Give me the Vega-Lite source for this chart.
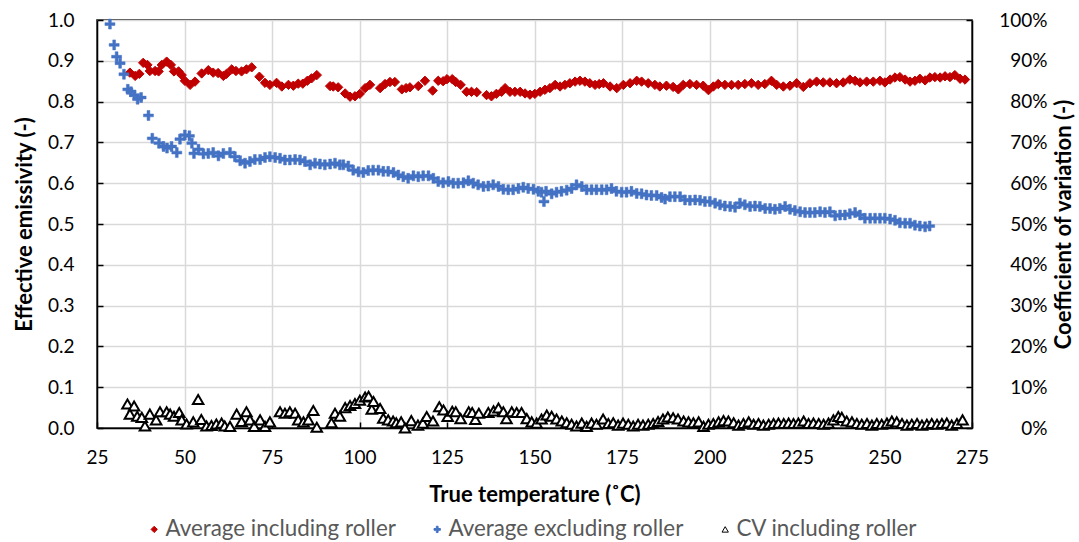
{
"$schema": "https://vega.github.io/schema/vega-lite/v6.json",
"width": 875, "height": 408,
"autosize": "none",
"padding": {"left": 97, "top": 20, "right": 107, "bottom": 114},
"data": {"values": [
{"s":"R","t":34.4,"v":0.871},{"s":"R","t":35.9,"v":0.863},{"s":"R","t":37.1,"v":0.868},{"s":"R","t":38.2,"v":0.895},{"s":"R","t":39.4,"v":0.890},{"s":"R","t":40.1,"v":0.875},{"s":"R","t":41.6,"v":0.875},{"s":"R","t":42.6,"v":0.874},{"s":"R","t":43.5,"v":0.890},{"s":"R","t":44.9,"v":0.898},{"s":"R","t":46.1,"v":0.890},{"s":"R","t":47.0,"v":0.874},{"s":"R","t":48.3,"v":0.874},{"s":"R","t":49.2,"v":0.865},{"s":"R","t":50.1,"v":0.851},{"s":"R","t":51.6,"v":0.841},{"s":"R","t":53.0,"v":0.849},{"s":"R","t":54.9,"v":0.869},{"s":"R","t":56.8,"v":0.877},{"s":"R","t":58.2,"v":0.871},{"s":"R","t":59.6,"v":0.870},{"s":"R","t":61.1,"v":0.863},{"s":"R","t":62.0,"v":0.868},{"s":"R","t":63.5,"v":0.879},{"s":"R","t":64.7,"v":0.875},{"s":"R","t":66.3,"v":0.874},{"s":"R","t":67.7,"v":0.879},{"s":"R","t":69.2,"v":0.884},{"s":"R","t":71.4,"v":0.861},{"s":"R","t":73.0,"v":0.846},{"s":"R","t":74.4,"v":0.841},{"s":"R","t":76.3,"v":0.846},{"s":"R","t":77.8,"v":0.837},{"s":"R","t":79.7,"v":0.841},{"s":"R","t":81.1,"v":0.839},{"s":"R","t":82.5,"v":0.844},{"s":"R","t":83.8,"v":0.844},{"s":"R","t":85.1,"v":0.851},{"s":"R","t":86.3,"v":0.857},{"s":"R","t":87.8,"v":0.865},
{"s":"R","t":91.6,"v":0.838},{"s":"R","t":92.5,"v":0.837},{"s":"R","t":93.9,"v":0.835},{"s":"R","t":95.9,"v":0.820},{"s":"R","t":97.3,"v":0.812},{"s":"R","t":98.7,"v":0.813},{"s":"R","t":100.1,"v":0.819},{"s":"R","t":101.6,"v":0.833},{"s":"R","t":103.0,"v":0.841},{"s":"R","t":105.9,"v":0.833},{"s":"R","t":107.3,"v":0.843},{"s":"R","t":108.7,"v":0.848},{"s":"R","t":110.1,"v":0.848},{"s":"R","t":112.1,"v":0.830},{"s":"R","t":113.3,"v":0.833},{"s":"R","t":114.4,"v":0.835},{"s":"R","t":116.8,"v":0.838},{"s":"R","t":118.7,"v":0.851},{"s":"R","t":120.9,"v":0.827},{"s":"R","t":122.5,"v":0.851},{"s":"R","t":123.9,"v":0.850},{"s":"R","t":125.0,"v":0.855},{"s":"R","t":126.5,"v":0.855},{"s":"R","t":127.5,"v":0.848},{"s":"R","t":128.9,"v":0.841},{"s":"R","t":130.6,"v":0.824},{"s":"R","t":132.0,"v":0.824},{"s":"R","t":133.5,"v":0.823},{"s":"R","t":136.3,"v":0.816},{"s":"R","t":137.7,"v":0.813},{"s":"R","t":139.1,"v":0.819},{"s":"R","t":140.6,"v":0.824},{"s":"R","t":141.6,"v":0.833},{"s":"R","t":143.0,"v":0.824},{"s":"R","t":144.4,"v":0.824},{"s":"R","t":145.9,"v":0.824},{"s":"R","t":147.3,"v":0.820},{"s":"R","t":148.7,"v":0.817},{"s":"R","t":150.1,"v":0.819},{"s":"R","t":151.6,"v":0.824},{"s":"R","t":153.0,"v":0.829},{"s":"R","t":154.4,"v":0.833},{"s":"R","t":155.9,"v":0.841},{"s":"R","t":157.3,"v":0.837},{"s":"R","t":158.7,"v":0.841},{"s":"R","t":160.1,"v":0.845},{"s":"R","t":161.6,"v":0.849},{"s":"R","t":163.0,"v":0.851},{"s":"R","t":164.4,"v":0.849},{"s":"R","t":165.8,"v":0.845},{"s":"R","t":167.3,"v":0.841},{"s":"R","t":168.5,"v":0.843},{"s":"R","t":169.7,"v":0.845},{"s":"R","t":171.6,"v":0.837},{"s":"R","t":173.5,"v":0.833},{"s":"R","t":175.4,"v":0.841},{"s":"R","t":177.3,"v":0.845},{"s":"R","t":179.2,"v":0.851},{"s":"R","t":180.6,"v":0.849},{"s":"R","t":182.5,"v":0.845},{"s":"R","t":184.4,"v":0.841},{"s":"R","t":185.8,"v":0.837},{"s":"R","t":187.7,"v":0.839},{"s":"R","t":189.6,"v":0.836},{"s":"R","t":191.1,"v":0.830},{"s":"R","t":192.5,"v":0.841},{"s":"R","t":194.4,"v":0.843},{"s":"R","t":196.3,"v":0.841},{"s":"R","t":198.2,"v":0.839},{"s":"R","t":199.7,"v":0.828},{"s":"R","t":201.1,"v":0.837},{"s":"R","t":202.5,"v":0.843},{"s":"R","t":204.4,"v":0.841},{"s":"R","t":206.3,"v":0.841},{"s":"R","t":208.2,"v":0.841},{"s":"R","t":210.1,"v":0.843},{"s":"R","t":212.0,"v":0.845},{"s":"R","t":213.9,"v":0.841},{"s":"R","t":215.8,"v":0.843},{"s":"R","t":217.7,"v":0.851},{"s":"R","t":219.2,"v":0.841},{"s":"R","t":221.1,"v":0.837},{"s":"R","t":223.0,"v":0.839},{"s":"R","t":224.9,"v":0.845},{"s":"R","t":226.8,"v":0.836},{"s":"R","t":228.7,"v":0.845},{"s":"R","t":230.6,"v":0.849},{"s":"R","t":232.5,"v":0.847},{"s":"R","t":234.4,"v":0.847},{"s":"R","t":236.3,"v":0.845},{"s":"R","t":238.2,"v":0.847},{"s":"R","t":240.1,"v":0.854},{"s":"R","t":241.6,"v":0.851},{"s":"R","t":243.0,"v":0.847},{"s":"R","t":244.9,"v":0.849},{"s":"R","t":246.8,"v":0.849},{"s":"R","t":248.7,"v":0.851},{"s":"R","t":250.1,"v":0.847},{"s":"R","t":251.6,"v":0.854},{"s":"R","t":253.0,"v":0.859},{"s":"R","t":254.4,"v":0.860},{"s":"R","t":255.9,"v":0.854},{"s":"R","t":257.3,"v":0.849},{"s":"R","t":258.7,"v":0.851},{"s":"R","t":260.1,"v":0.856},{"s":"R","t":261.6,"v":0.852},{"s":"R","t":263.0,"v":0.859},{"s":"R","t":264.4,"v":0.860},{"s":"R","t":265.9,"v":0.859},{"s":"R","t":267.3,"v":0.862},{"s":"R","t":268.7,"v":0.860},{"s":"R","t":270.1,"v":0.865},{"s":"R","t":271.6,"v":0.856},{"s":"R","t":273.0,"v":0.854},
{"s":"B","t":28.7,"v":0.990},{"s":"B","t":29.9,"v":0.939},{"s":"B","t":30.6,"v":0.910},{"s":"B","t":31.6,"v":0.894},{"s":"B","t":32.7,"v":0.867},{"s":"B","t":33.8,"v":0.830},{"s":"B","t":34.7,"v":0.824},{"s":"B","t":35.7,"v":0.816},{"s":"B","t":36.6,"v":0.806},{"s":"B","t":37.6,"v":0.810},{"s":"B","t":39.7,"v":0.766},{"s":"B","t":40.8,"v":0.710},{"s":"B","t":42.7,"v":0.698},{"s":"B","t":44.0,"v":0.690},{"s":"B","t":45.0,"v":0.686},{"s":"B","t":46.3,"v":0.690},{"s":"B","t":47.8,"v":0.675},{"s":"B","t":48.7,"v":0.708},{"s":"B","t":50.1,"v":0.718},{"s":"B","t":51.4,"v":0.716},{"s":"B","t":52.1,"v":0.698},{"s":"B","t":52.7,"v":0.673},{"s":"B","t":54.0,"v":0.683},{"s":"B","t":55.4,"v":0.672},{"s":"B","t":56.8,"v":0.673},{"s":"B","t":58.2,"v":0.675},{"s":"B","t":59.7,"v":0.667},{"s":"B","t":61.1,"v":0.673},{"s":"B","t":63.0,"v":0.675},{"s":"B","t":64.4,"v":0.665},{"s":"B","t":65.9,"v":0.655},{"s":"B","t":67.3,"v":0.649},{"s":"B","t":68.7,"v":0.653},{"s":"B","t":70.1,"v":0.658},{"s":"B","t":71.6,"v":0.658},{"s":"B","t":73.0,"v":0.663},{"s":"B","t":74.4,"v":0.665},{"s":"B","t":75.9,"v":0.663},{"s":"B","t":77.3,"v":0.661},{"s":"B","t":78.7,"v":0.657},{"s":"B","t":80.1,"v":0.657},{"s":"B","t":81.6,"v":0.658},{"s":"B","t":83.0,"v":0.657},{"s":"B","t":84.4,"v":0.653},{"s":"B","t":85.9,"v":0.645},{"s":"B","t":87.3,"v":0.649},{"s":"B","t":88.7,"v":0.647},{"s":"B","t":90.1,"v":0.645},{"s":"B","t":91.6,"v":0.647},{"s":"B","t":93.0,"v":0.649},{"s":"B","t":94.4,"v":0.645},{"s":"B","t":95.4,"v":0.645},{"s":"B","t":96.8,"v":0.642},{"s":"B","t":98.2,"v":0.632},{"s":"B","t":99.7,"v":0.628},{"s":"B","t":101.1,"v":0.626},{"s":"B","t":102.5,"v":0.631},{"s":"B","t":103.9,"v":0.632},{"s":"B","t":105.4,"v":0.632},{"s":"B","t":106.8,"v":0.629},{"s":"B","t":108.2,"v":0.629},{"s":"B","t":109.7,"v":0.626},{"s":"B","t":111.1,"v":0.620},{"s":"B","t":112.5,"v":0.616},{"s":"B","t":113.9,"v":0.612},{"s":"B","t":115.4,"v":0.618},{"s":"B","t":116.8,"v":0.616},{"s":"B","t":118.2,"v":0.618},{"s":"B","t":119.7,"v":0.618},{"s":"B","t":121.1,"v":0.612},{"s":"B","t":122.5,"v":0.604},{"s":"B","t":123.9,"v":0.601},{"s":"B","t":125.4,"v":0.604},{"s":"B","t":126.8,"v":0.600},{"s":"B","t":128.2,"v":0.600},{"s":"B","t":129.7,"v":0.601},{"s":"B","t":131.1,"v":0.606},{"s":"B","t":132.5,"v":0.600},{"s":"B","t":133.9,"v":0.596},{"s":"B","t":135.4,"v":0.592},{"s":"B","t":136.8,"v":0.593},{"s":"B","t":138.2,"v":0.596},{"s":"B","t":139.7,"v":0.592},{"s":"B","t":141.1,"v":0.585},{"s":"B","t":142.5,"v":0.584},{"s":"B","t":143.9,"v":0.584},{"s":"B","t":145.4,"v":0.587},{"s":"B","t":146.8,"v":0.590},{"s":"B","t":148.2,"v":0.587},{"s":"B","t":149.7,"v":0.585},{"s":"B","t":151.1,"v":0.580},{"s":"B","t":152.0,"v":0.578},{"s":"B","t":152.7,"v":0.555},{"s":"B","t":153.3,"v":0.580},{"s":"B","t":154.9,"v":0.574},{"s":"B","t":156.3,"v":0.578},{"s":"B","t":157.7,"v":0.580},{"s":"B","t":159.2,"v":0.583},{"s":"B","t":160.6,"v":0.587},{"s":"B","t":162.0,"v":0.596},{"s":"B","t":163.5,"v":0.592},{"s":"B","t":164.9,"v":0.584},{"s":"B","t":166.3,"v":0.584},{"s":"B","t":167.7,"v":0.584},{"s":"B","t":169.2,"v":0.584},{"s":"B","t":170.6,"v":0.584},{"s":"B","t":172.0,"v":0.587},{"s":"B","t":173.4,"v":0.580},{"s":"B","t":174.9,"v":0.578},{"s":"B","t":176.3,"v":0.578},{"s":"B","t":177.7,"v":0.580},{"s":"B","t":179.2,"v":0.575},{"s":"B","t":180.6,"v":0.574},{"s":"B","t":182.0,"v":0.571},{"s":"B","t":183.4,"v":0.570},{"s":"B","t":184.9,"v":0.570},{"s":"B","t":186.3,"v":0.565},{"s":"B","t":187.3,"v":0.561},{"s":"B","t":188.7,"v":0.567},{"s":"B","t":190.1,"v":0.567},{"s":"B","t":191.6,"v":0.567},{"s":"B","t":193.0,"v":0.559},{"s":"B","t":194.4,"v":0.558},{"s":"B","t":195.9,"v":0.559},{"s":"B","t":197.3,"v":0.558},{"s":"B","t":198.7,"v":0.555},{"s":"B","t":200.1,"v":0.555},{"s":"B","t":201.6,"v":0.551},{"s":"B","t":203.0,"v":0.547},{"s":"B","t":204.4,"v":0.544},{"s":"B","t":205.9,"v":0.543},{"s":"B","t":207.3,"v":0.541},{"s":"B","t":208.7,"v":0.551},{"s":"B","t":210.1,"v":0.547},{"s":"B","t":211.6,"v":0.543},{"s":"B","t":213.0,"v":0.544},{"s":"B","t":214.4,"v":0.543},{"s":"B","t":215.9,"v":0.538},{"s":"B","t":217.3,"v":0.538},{"s":"B","t":218.7,"v":0.536},{"s":"B","t":220.1,"v":0.538},{"s":"B","t":221.6,"v":0.543},{"s":"B","t":223.0,"v":0.536},{"s":"B","t":224.4,"v":0.533},{"s":"B","t":225.9,"v":0.530},{"s":"B","t":227.3,"v":0.528},{"s":"B","t":228.7,"v":0.528},{"s":"B","t":230.1,"v":0.528},{"s":"B","t":231.6,"v":0.530},{"s":"B","t":233.0,"v":0.528},{"s":"B","t":234.4,"v":0.530},{"s":"B","t":235.9,"v":0.520},{"s":"B","t":237.3,"v":0.522},{"s":"B","t":238.7,"v":0.522},{"s":"B","t":240.1,"v":0.525},{"s":"B","t":241.6,"v":0.528},{"s":"B","t":243.0,"v":0.522},{"s":"B","t":244.4,"v":0.514},{"s":"B","t":245.9,"v":0.514},{"s":"B","t":247.3,"v":0.514},{"s":"B","t":248.7,"v":0.514},{"s":"B","t":250.1,"v":0.514},{"s":"B","t":251.6,"v":0.512},{"s":"B","t":253.0,"v":0.509},{"s":"B","t":254.4,"v":0.503},{"s":"B","t":255.9,"v":0.502},{"s":"B","t":257.3,"v":0.502},{"s":"B","t":258.7,"v":0.497},{"s":"B","t":260.1,"v":0.495},{"s":"B","t":261.6,"v":0.493},{"s":"B","t":262.9,"v":0.495},
{"s":"C","t":33.7,"v":0.059},{"s":"C","t":35.6,"v":0.054},{"s":"C","t":34.4,"v":0.034},{"s":"C","t":36.5,"v":0.029},{"s":"C","t":38.7,"v":0.005},{"s":"C","t":37.8,"v":0.026},{"s":"C","t":40.1,"v":0.034},{"s":"C","t":41.9,"v":0.020},{"s":"C","t":43.0,"v":0.040},{"s":"C","t":44.9,"v":0.040},{"s":"C","t":45.9,"v":0.034},{"s":"C","t":47.0,"v":0.029},{"s":"C","t":48.5,"v":0.038},{"s":"C","t":49.2,"v":0.020},{"s":"C","t":50.6,"v":0.010},{"s":"C","t":52.5,"v":0.015},{"s":"C","t":53.9,"v":0.070},{"s":"C","t":54.8,"v":0.021},{"s":"C","t":56.3,"v":0.005},{"s":"C","t":57.7,"v":0.006},{"s":"C","t":59.1,"v":0.010},{"s":"C","t":60.6,"v":0.012},{"s":"C","t":61.5,"v":0.005},{"s":"C","t":63.0,"v":0.004},{"s":"C","t":64.9,"v":0.034},{"s":"C","t":66.3,"v":0.016},{"s":"C","t":67.7,"v":0.040},{"s":"C","t":68.7,"v":0.020},{"s":"C","t":69.9,"v":0.004},{"s":"C","t":71.6,"v":0.020},{"s":"C","t":73.0,"v":0.004},{"s":"C","t":74.4,"v":0.015},{"s":"C","t":77.3,"v":0.040},{"s":"C","t":78.7,"v":0.036},{"s":"C","t":80.1,"v":0.040},{"s":"C","t":81.6,"v":0.036},{"s":"C","t":82.5,"v":0.020},{"s":"C","t":84.0,"v":0.015},{"s":"C","t":85.4,"v":0.020},{"s":"C","t":86.8,"v":0.043},{"s":"C","t":87.8,"v":0.002},{"s":"C","t":92.0,"v":0.013},{"s":"C","t":93.0,"v":0.036},{"s":"C","t":94.4,"v":0.029},{"s":"C","t":95.9,"v":0.050},{"s":"C","t":97.3,"v":0.055},{"s":"C","t":98.7,"v":0.060},{"s":"C","t":100.1,"v":0.068},{"s":"C","t":101.6,"v":0.076},{"s":"C","t":102.6,"v":0.078},{"s":"C","t":103.5,"v":0.046},{"s":"C","t":104.0,"v":0.065},{"s":"C","t":105.9,"v":0.048},{"s":"C","t":106.8,"v":0.024},{"s":"C","t":108.2,"v":0.020},{"s":"C","t":109.6,"v":0.017},{"s":"C","t":110.5,"v":0.013},{"s":"C","t":111.9,"v":0.015},{"s":"C","t":113.0,"v":0.000},{"s":"C","t":114.8,"v":0.018},{"s":"C","t":116.7,"v":0.007},{"s":"C","t":118.1,"v":0.012},{"s":"C","t":119.2,"v":0.028},{"s":"C","t":121.0,"v":0.017},{"s":"C","t":122.8,"v":0.052},{"s":"C","t":124.0,"v":0.044},{"s":"C","t":125.2,"v":0.028},{"s":"C","t":126.5,"v":0.041},{"s":"C","t":127.5,"v":0.040},{"s":"C","t":128.9,"v":0.023},{"s":"C","t":131.2,"v":0.040},{"s":"C","t":132.2,"v":0.038},{"s":"C","t":133.1,"v":0.021},{"s":"C","t":134.1,"v":0.036},{"s":"C","t":136.8,"v":0.038},{"s":"C","t":138.3,"v":0.042},{"s":"C","t":139.7,"v":0.049},{"s":"C","t":141.1,"v":0.040},{"s":"C","t":142.0,"v":0.023},{"s":"C","t":143.5,"v":0.040},{"s":"C","t":144.9,"v":0.038},{"s":"C","t":146.3,"v":0.038},{"s":"C","t":147.8,"v":0.023},{"s":"C","t":149.2,"v":0.015},{"s":"C","t":150.6,"v":0.012},{"s":"C","t":152.0,"v":0.022},{"s":"C","t":153.5,"v":0.032},{"s":"C","t":154.9,"v":0.029},{"s":"C","t":156.3,"v":0.022},{"s":"C","t":157.8,"v":0.017},{"s":"C","t":159.2,"v":0.013},{"s":"C","t":160.6,"v":0.009},{"s":"C","t":162.0,"v":0.005},{"s":"C","t":163.5,"v":0.012},{"s":"C","t":164.9,"v":0.004},{"s":"C","t":166.3,"v":0.012},{"s":"C","t":167.7,"v":0.009},{"s":"C","t":169.6,"v":0.022},{"s":"C","t":171.1,"v":0.011},{"s":"C","t":172.5,"v":0.013},{"s":"C","t":173.9,"v":0.007},{"s":"C","t":175.3,"v":0.012},{"s":"C","t":176.8,"v":0.009},{"s":"C","t":178.2,"v":0.005},{"s":"C","t":179.6,"v":0.009},{"s":"C","t":181.0,"v":0.007},{"s":"C","t":182.5,"v":0.009},{"s":"C","t":183.9,"v":0.011},{"s":"C","t":185.3,"v":0.016},{"s":"C","t":186.7,"v":0.022},{"s":"C","t":188.1,"v":0.027},{"s":"C","t":189.6,"v":0.025},{"s":"C","t":191.0,"v":0.022},{"s":"C","t":192.6,"v":0.017},{"s":"C","t":194.0,"v":0.015},{"s":"C","t":195.4,"v":0.013},{"s":"C","t":196.9,"v":0.015},{"s":"C","t":198.3,"v":0.004},{"s":"C","t":199.7,"v":0.009},{"s":"C","t":201.1,"v":0.011},{"s":"C","t":202.6,"v":0.015},{"s":"C","t":204.0,"v":0.018},{"s":"C","t":205.4,"v":0.017},{"s":"C","t":206.9,"v":0.013},{"s":"C","t":208.3,"v":0.007},{"s":"C","t":209.7,"v":0.011},{"s":"C","t":211.2,"v":0.015},{"s":"C","t":212.6,"v":0.009},{"s":"C","t":214.0,"v":0.011},{"s":"C","t":215.4,"v":0.007},{"s":"C","t":216.9,"v":0.009},{"s":"C","t":218.3,"v":0.011},{"s":"C","t":219.7,"v":0.012},{"s":"C","t":221.2,"v":0.011},{"s":"C","t":222.6,"v":0.012},{"s":"C","t":224.0,"v":0.011},{"s":"C","t":225.4,"v":0.012},{"s":"C","t":226.9,"v":0.017},{"s":"C","t":228.3,"v":0.011},{"s":"C","t":229.7,"v":0.012},{"s":"C","t":231.2,"v":0.011},{"s":"C","t":232.6,"v":0.009},{"s":"C","t":234.0,"v":0.012},{"s":"C","t":235.4,"v":0.020},{"s":"C","t":236.8,"v":0.028},{"s":"C","t":237.8,"v":0.026},{"s":"C","t":239.2,"v":0.017},{"s":"C","t":240.7,"v":0.015},{"s":"C","t":242.1,"v":0.011},{"s":"C","t":243.5,"v":0.009},{"s":"C","t":245.0,"v":0.011},{"s":"C","t":246.4,"v":0.007},{"s":"C","t":247.8,"v":0.011},{"s":"C","t":249.2,"v":0.009},{"s":"C","t":250.7,"v":0.012},{"s":"C","t":252.1,"v":0.017},{"s":"C","t":253.5,"v":0.015},{"s":"C","t":255.0,"v":0.011},{"s":"C","t":256.4,"v":0.007},{"s":"C","t":257.8,"v":0.009},{"s":"C","t":259.3,"v":0.011},{"s":"C","t":260.7,"v":0.007},{"s":"C","t":262.1,"v":0.009},{"s":"C","t":263.5,"v":0.011},{"s":"C","t":265.0,"v":0.009},{"s":"C","t":266.4,"v":0.011},{"s":"C","t":267.8,"v":0.012},{"s":"C","t":269.2,"v":0.007},{"s":"C","t":270.7,"v":0.011},{"s":"C","t":272.3,"v":0.020}
]},
"layer": [
 {
  "layer": [
   {
    "transform": [{"filter": "datum.s == 'R'"}],
    "mark": {"type": "point", "filled": true, "opacity": 1, "size": 88, "strokeWidth": 1},
    "encoding": {
     "x": {"field": "t", "type": "quantitative", "scale": {"domain": [25, 275], "nice": false, "zero": false}, "axis": {"values": [25,50,75,100,125,150,175,200,225,250,275], "title": "True temperature (˚C)", "labelPadding": 26, "titlePadding": 17}},
     "y": {"field": "v", "type": "quantitative", "scale": {"domain": [0, 1], "nice": false}, "axis": {"values": [0,0.1,0.2,0.3,0.4,0.5,0.6,0.7,0.8,0.9,1.0], "format": ".1f", "title": "Effective emissivity (-)", "labelPadding": 29, "titlePadding": 11}},
     "shape": {"field": "s", "type": "nominal", "scale": {"domain": ["R","B","C"], "range": ["diamond", "M-1,-0.28H-0.28V-1H0.28V-0.28H1V0.28H0.28V1H-0.28V0.28H-1Z", "triangle-up"]}, "legend": {"title": null, "orient": "none", "legendX": 46, "legendY": 498, "direction": "horizontal", "labelLimit": 400, "labelExpr": "datum.label == 'R' ? 'Average including roller' : datum.label == 'B' ? 'Average excluding roller' : 'CV including roller'"}},
     "fill": {"field": "s", "type": "nominal", "scale": {"domain": ["R","B","C"], "range": ["#C00000", "#4472C4", "#FFFFFF"]}, "legend": {"title": null, "orient": "none", "legendX": 46, "legendY": 498, "direction": "horizontal", "labelLimit": 400, "labelExpr": "datum.label == 'R' ? 'Average including roller' : datum.label == 'B' ? 'Average excluding roller' : 'CV including roller'"}},
     "stroke": {"field": "s", "type": "nominal", "scale": {"domain": ["R","B","C"], "range": ["#C00000", "#4472C4", "#000000"]}, "legend": {"title": null, "orient": "none", "legendX": 46, "legendY": 498, "direction": "horizontal", "labelLimit": 400, "labelExpr": "datum.label == 'R' ? 'Average including roller' : datum.label == 'B' ? 'Average excluding roller' : 'CV including roller'"}}
    }
   },
   {
    "transform": [{"filter": "datum.s == 'B'"}],
    "mark": {"type": "point", "filled": true, "opacity": 1, "size": 100, "strokeWidth": 0.5},
    "encoding": {
     "x": {"field": "t", "type": "quantitative"},
     "y": {"field": "v", "type": "quantitative"},
     "shape": {"field": "s", "type": "nominal"},
     "fill": {"field": "s", "type": "nominal"},
     "stroke": {"field": "s", "type": "nominal"}
    }
   }
  ]
 },
 {
  "transform": [{"filter": "datum.s == 'C'"}],
  "mark": {"type": "point", "filled": true, "opacity": 1, "size": 110, "strokeWidth": 2},
  "encoding": {
   "x": {"field": "t", "type": "quantitative"},
   "y": {"field": "v", "type": "quantitative", "scale": {"domain": [0, 1], "nice": false}, "axis": {"orient": "right", "values": [0,0.1,0.2,0.3,0.4,0.5,0.6,0.7,0.8,0.9,1.0], "format": ".0%", "grid": false, "labelAlign": "right", "labelPadding": 81, "title": "Coefficient of variation (-)", "titleAngle": 270, "titleX": 91, "titleY": 204, "titleAlign": "center", "titleBaseline": "middle"}},
   "shape": {"field": "s", "type": "nominal"},
   "fill": {"field": "s", "type": "nominal"},
   "stroke": {"field": "s", "type": "nominal"}
  }
 }
],
"resolve": {"scale": {"y": "independent"}},
"config": {
 "view": {"stroke": "black", "strokeWidth": 1.5},
 "font": "Lato",
 "axis": {"labelFont": "Lato", "labelFontSize": 19, "labelColor": "#000000", "titleFont": "Lato", "titleFontSize": 22, "titleFontWeight": "bold", "titleColor": "#000000", "domainColor": "#000000", "domainWidth": 1.5, "tickColor": "#000000", "tickWidth": 1.5, "tickSize": -6, "gridColor": "#D9D9D9", "gridWidth": 1.5, "labelFlush": false, "labelOverlap": false},
 "legend": {"labelFont": "Lato", "labelFontSize": 22.4, "labelColor": "#595959", "symbolSize": 40, "symbolStrokeWidth": 1, "labelOffset": 0, "columnPadding": 30, "padding": 0}
}
}
